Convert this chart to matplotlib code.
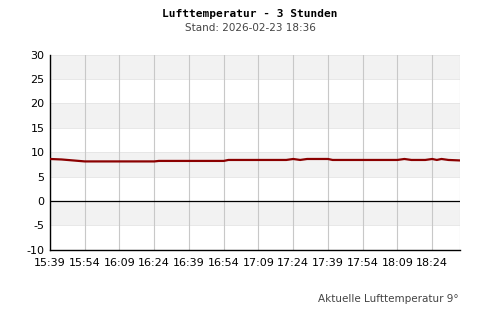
from datetime import datetime

import matplotlib
matplotlib.use("Agg")
import matplotlib.pyplot as plt
import matplotlib.dates as mdates

plt.rcParams["axes.unicode_minus"] = False

# Temperature readings (time, deg C)
times = ["15:39", "15:44", "15:49", "15:54", "16:09", "16:24", "16:26", "16:39",
         "16:54", "16:56", "17:09", "17:21", "17:24", "17:27", "17:30", "17:39",
         "17:41", "17:54", "18:06", "18:09", "18:12", "18:15", "18:18", "18:21",
         "18:24", "18:26", "18:28", "18:31", "18:36"]
temps = [8.6, 8.5, 8.3, 8.1, 8.1, 8.1, 8.2, 8.2,
         8.2, 8.4, 8.4, 8.4, 8.6, 8.4, 8.6, 8.6,
         8.4, 8.4, 8.4, 8.4, 8.6, 8.4, 8.4, 8.4,
         8.6, 8.4, 8.6, 8.4, 8.3]
tick_labels = ["15:39", "15:54", "16:09", "16:24", "16:39", "16:54",
               "17:09", "17:24", "17:39", "17:54", "18:09", "18:24"]
y_ticks = [30, 25, 20, 15, 10, 5, 0, -5, -10]

day = "2026-02-23 "
t = [datetime.strptime(day + s, "%Y-%m-%d %H:%M") for s in times]
ticks = [datetime.strptime(day + s, "%Y-%m-%d %H:%M") for s in tick_labels]
t_start = t[0]
t_end = datetime.strptime(day + "18:36", "%Y-%m-%d %H:%M")

fig = plt.figure(figsize=(5, 3.2), dpi=100)
ax = fig.add_axes([0.1, 0.22, 0.82, 0.609])

# alternating bands
for lo in range(-10, 30, 5):
    if (lo // 5) % 2 == 1:
        ax.axhspan(lo, lo + 5, color="#f2f2f2", zorder=0, lw=0)
for y in y_ticks:
    ax.axhline(y, color="#e4e4e4", lw=0.6, zorder=0.5)
for x in ticks:
    ax.axvline(x, color="#c8c8c8", lw=0.8, zorder=0.6)
ax.axvline(t_end, color="#c8c8c8", lw=0.8, zorder=0.6)
ax.axhline(0, color="black", lw=0.9, zorder=1)

ax.plot(t, temps, color="#8b0000", lw=1.6, zorder=3)

ax.set_xlim(t_start, t_end)
ax.set_ylim(-10, 30)
ax.set_xticks(ticks)
ax.xaxis.set_major_formatter(mdates.DateFormatter("%H:%M"))
ax.set_yticks(y_ticks)
ax.tick_params(axis="both", length=0, labelsize=8, colors="black", pad=4)
ax.tick_params(axis="x", pad=6)
for side in ["top", "right"]:
    ax.spines[side].set_visible(False)
ax.spines["left"].set_linewidth(1.0)
ax.spines["bottom"].set_linewidth(1.0)

fig.text(0.5, 0.955, "Lufttemperatur - 3 Stunden", ha="center", va="center",
         family="DejaVu Sans Mono", weight="bold", fontsize=8)
fig.text(0.5, 0.912, "Stand: 2026-02-23 18:36", ha="center", va="center",
         color="#444444", fontsize=7.5)
fig.text(0.918, 0.065, "Aktuelle Lufttemperatur 9°", ha="right", va="center",
         color="#444444", fontsize=7.5)

fig.savefig("out.png", dpi=100)
